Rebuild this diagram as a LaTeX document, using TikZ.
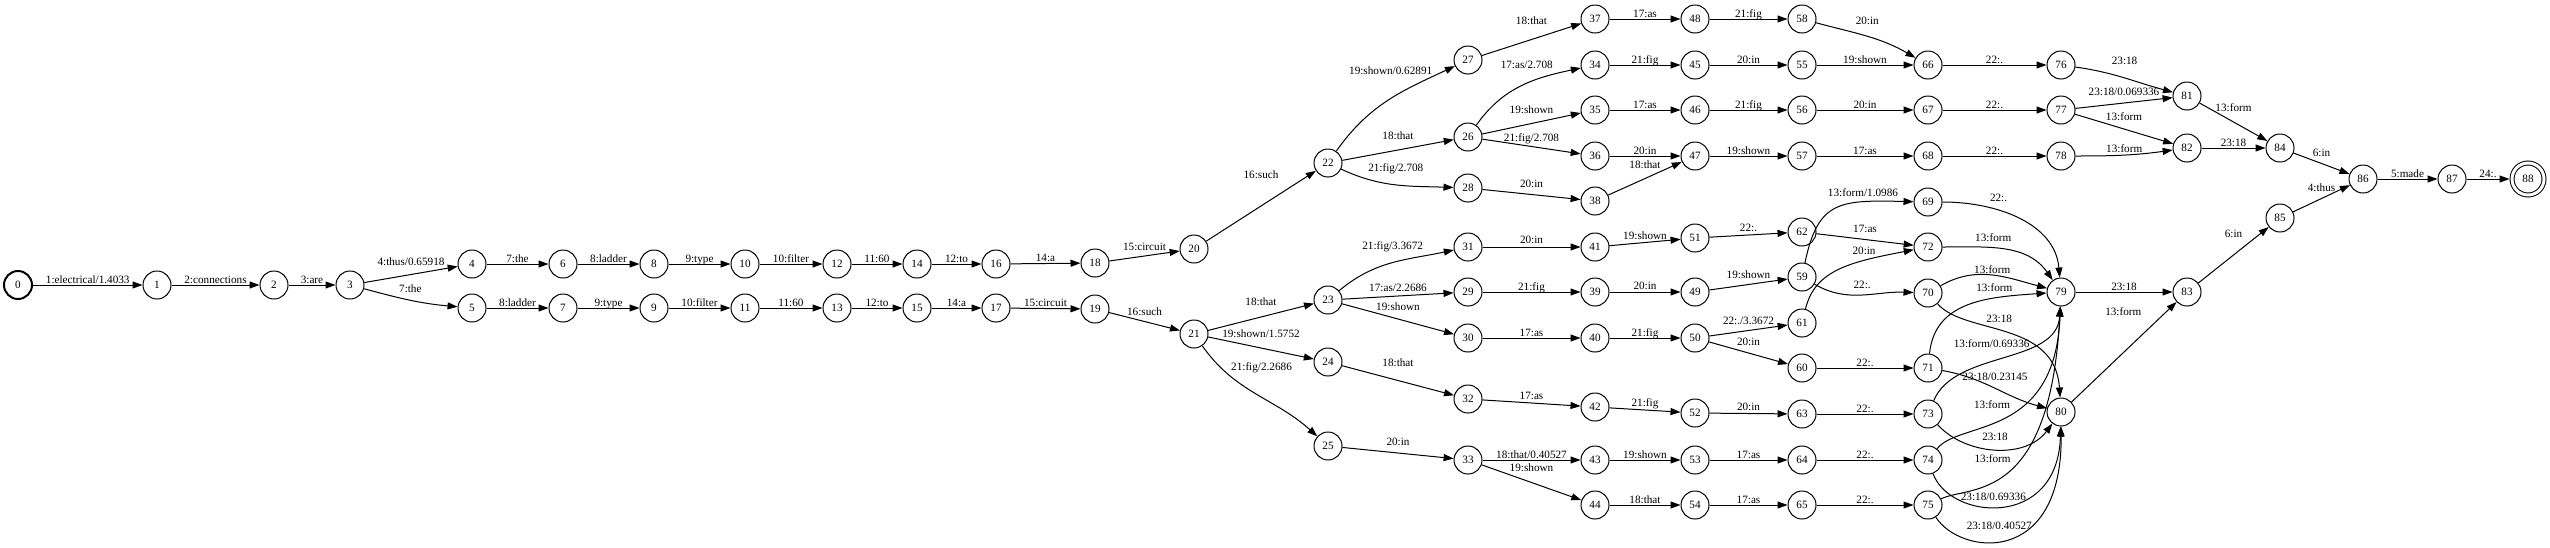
\documentclass[tikz,border=0pt]{standalone}
\usepackage{fontspec}
\setmainfont{Liberation Serif}
\usetikzlibrary{arrows.meta, positioning}
\newcommand{\lblsize}{\fontsize{11.2pt}{13pt}\selectfont}

\begin{document}
\begin{tikzpicture}[x=1pt, y=-1pt,
        state/.style={draw, circle, line width=1pt, minimum size=28pt, inner sep=0pt, font=\lblsize},
        startstate/.style={state, line width=2pt},
        endstate/.style={state, double, double distance=3pt, minimum size=32pt, outer sep=2.5pt},
        trans/.style={-{Triangle[length=10pt, width=7pt]}, line width=1pt},
        lbl/.style={font=\lblsize, inner sep=0pt, text height=7.7pt, text depth=1.5pt, above}
    ]
        \useasboundingbox (0,0) rectangle (2550,547);

        % --- Start of the lattice ---
        \node[startstate] (s0) at (18,285) {0};
        \node[state] (s1) at (157,285) {1};
        \node[state] (s2) at (274,285) {2};
        \node[state] (s3) at (350,285) {3};

        % --- Two parallel rows ---
        \node[state] (s4) at (472,264) {4};
        \node[state] (s5) at (472,308) {5};
        \node[state] (s6) at (563,264) {6};
        \node[state] (s7) at (563,308) {7};
        \node[state] (s8) at (654,264) {8};
        \node[state] (s9) at (654,308) {9};
        \node[state] (s10) at (745,264) {10};
        \node[state] (s11) at (745,308) {11};
        \node[state] (s12) at (837,264) {12};
        \node[state] (s13) at (837,308) {13};
        \node[state] (s14) at (917,264) {14};
        \node[state] (s15) at (917,308) {15};
        \node[state] (s16) at (996,264) {16};
        \node[state] (s17) at (996,308) {17};
        \node[state] (s18) at (1095,263) {18};
        \node[state] (s19) at (1095,309) {19};
        \node[state] (s20) at (1194,249) {20};
        \node[state] (s21) at (1194,334) {21};

        % --- Branching part ---
        \node[state] (s22) at (1328,163) {22};
        \node[state] (s23) at (1328,300) {23};
        \node[state] (s24) at (1328,362) {24};
        \node[state] (s25) at (1328,446) {25};

        \node[state] (s27) at (1468,60) {27};
        \node[state] (s26) at (1468,137) {26};
        \node[state] (s28) at (1468,188) {28};
        \node[state] (s31) at (1468,247) {31};
        \node[state] (s29) at (1468,292) {29};
        \node[state] (s30) at (1468,338) {30};
        \node[state] (s32) at (1468,399) {32};
        \node[state] (s33) at (1468,460) {33};

        \node[state] (s37) at (1595,19) {37};
        \node[state] (s34) at (1595,65) {34};
        \node[state] (s35) at (1595,110) {35};
        \node[state] (s36) at (1595,156) {36};
        \node[state] (s38) at (1595,201) {38};
        \node[state] (s41) at (1595,247) {41};
        \node[state] (s39) at (1595,292) {39};
        \node[state] (s40) at (1595,338) {40};
        \node[state] (s42) at (1595,407) {42};
        \node[state] (s43) at (1595,460) {43};
        \node[state] (s44) at (1595,505) {44};

        \node[state] (s48) at (1695,19) {48};
        \node[state] (s45) at (1695,65) {45};
        \node[state] (s46) at (1695,110) {46};
        \node[state] (s47) at (1695,156) {47};
        \node[state] (s51) at (1695,238) {51};
        \node[state] (s49) at (1695,292) {49};
        \node[state] (s50) at (1695,338) {50};
        \node[state] (s52) at (1695,413) {52};
        \node[state] (s53) at (1695,460) {53};
        \node[state] (s54) at (1695,505) {54};

        \node[state] (s58) at (1802,19) {58};
        \node[state] (s55) at (1802,65) {55};
        \node[state] (s56) at (1802,110) {56};
        \node[state] (s57) at (1802,156) {57};
        \node[state] (s62) at (1802,232) {62};
        \node[state] (s59) at (1802,277) {59};
        \node[state] (s61) at (1802,323) {61};
        \node[state] (s60) at (1802,368) {60};
        \node[state] (s63) at (1802,414) {63};
        \node[state] (s64) at (1802,460) {64};
        \node[state] (s65) at (1802,505) {65};

        \node[state] (s66) at (1928,65) {66};
        \node[state] (s67) at (1928,110) {67};
        \node[state] (s68) at (1928,156) {68};
        \node[state] (s69) at (1928,202) {69};
        \node[state] (s72) at (1928,247) {72};
        \node[state] (s70) at (1928,293) {70};
        \node[state] (s71) at (1928,368) {71};
        \node[state] (s73) at (1928,414) {73};
        \node[state] (s74) at (1928,460) {74};
        \node[state] (s75) at (1928,505) {75};

        % --- Merging part ---
        \node[state] (s76) at (2061,65) {76};
        \node[state] (s77) at (2061,110) {77};
        \node[state] (s78) at (2061,156) {78};
        \node[state] (s79) at (2061,292) {79};
        \node[state] (s80) at (2061,412) {80};
        \node[state] (s81) at (2187,96) {81};
        \node[state] (s82) at (2187,148) {82};
        \node[state] (s83) at (2187,292) {83};
        \node[state] (s84) at (2280,148) {84};
        \node[state] (s85) at (2280,218) {85};
        \node[state] (s86) at (2363,179) {86};
        \node[state] (s87) at (2452,179) {87};
        \node[endstate] (s88) at (2528,179) {88};

        % --- Arcs: start ---
        \draw[trans] (s0) -- (s1) node[lbl, midway] {1:electrical/1.4033};
        \draw[trans] (s1) -- (s2) node[lbl, midway] {2:connections};
        \draw[trans] (s2) -- (s3) node[lbl, midway] {3:are};
        \draw[trans] (s3) -- (s4) node[lbl, midway, above=7pt] {4:thus/0.65918};
        \draw[trans] (s3) to[out=-15, in=175] node[lbl, above=6pt] {7:the} (s5);

        % upper row
        \draw[trans] (s4) -- (s6) node[lbl, midway] {7:the};
        \draw[trans] (s6) -- (s8) node[lbl, midway] {8:ladder};
        \draw[trans] (s8) -- (s10) node[lbl, midway] {9:type};
        \draw[trans] (s10) -- (s12) node[lbl, midway] {10:filter};
        \draw[trans] (s12) -- (s14) node[lbl, midway] {11:60};
        \draw[trans] (s14) -- (s16) node[lbl, midway] {12:to};
        \draw[trans] (s16) -- (s18) node[lbl, midway] {14:a};
        \draw[trans] (s18) -- (s20) node[lbl, midway, above=4pt] {15:circuit};

        % lower row
        \draw[trans] (s5) -- (s7) node[lbl, midway] {8:ladder};
        \draw[trans] (s7) -- (s9) node[lbl, midway] {9:type};
        \draw[trans] (s9) -- (s11) node[lbl, midway] {10:filter};
        \draw[trans] (s11) -- (s13) node[lbl, midway] {11:60};
        \draw[trans] (s13) -- (s15) node[lbl, midway] {12:to};
        \draw[trans] (s15) -- (s17) node[lbl, midway] {14:a};
        \draw[trans] (s17) -- (s19) node[lbl, midway] {15:circuit};
        \draw[trans] (s19) -- (s21) node[lbl, midway, above=4pt] {16:such};

        % --- Arcs: branching ---
        \draw[trans] (s20) -- (s22) node[lbl, midway, above=26pt] {16:such};
        \draw[trans] (s21) -- (s23) node[lbl, midway, above=10pt] {18:that};
        \draw[trans] (s21) -- (s24) node[lbl, midway, above=9pt] {19:shown/1.5752};
        \draw[trans] (s21) to[out=-55, in=138] node[lbl, pos=0.18, right=10pt] {21:fig/2.2686} (s25);

        \draw[trans] (s22) to[out=55, in=205] node[lbl, pos=0.85, above left] {19:shown/0.62891} (s27);
        \draw[trans] (s22) -- (s26) node[lbl, midway, above=9pt] {18:that};
        \draw[trans] (s22) to[out=-25, in=178] node[lbl, above=11pt] {21:fig/2.708} (s28);
        \draw[trans] (s23) to[out=40, in=192] node[lbl, above=11pt] {21:fig/3.3672} (s31);
        \draw[trans] (s23) -- (s29) node[lbl, midway, above=3pt] {17:as/2.2686};
        \draw[trans] (s23) -- (s30) node[lbl, midway, above=7pt] {19:shown};
        \draw[trans] (s24) -- (s32) node[lbl, midway, above=12pt] {18:that};
        \draw[trans] (s25) -- (s33) node[lbl, midway, above=6pt] {20:in};

        \draw[trans] (s27) -- (s37) node[lbl, midway, above=13pt] {18:that};
        \draw[trans] (s26) to[out=55, in=192] node[lbl, pos=0.55, above=13pt] {17:as/2.708} (s34);
        \draw[trans] (s26) -- (s35) node[lbl, midway, above=8pt] {19:shown};
        \draw[trans] (s26) -- (s36) node[lbl, midway, above=3pt] {21:fig/2.708};
        \draw[trans] (s28) -- (s38) node[lbl, midway, above=5pt] {20:in};
        \draw[trans] (s31) -- (s41) node[lbl, midway, above=2pt] {20:in};
        \draw[trans] (s29) -- (s39) node[lbl, midway] {21:fig};
        \draw[trans] (s30) -- (s40) node[lbl, midway] {17:as};
        \draw[trans] (s32) -- (s42) node[lbl, midway, above=2pt] {17:as};
        \draw[trans] (s33) -- (s43) node[lbl, midway] {18:that/0.40527};
        \draw[trans] (s33) -- (s44) node[lbl, midway, above=9pt] {19:shown};

        \draw[trans] (s37) -- (s48) node[lbl, midway] {17:as};
        \draw[trans] (s34) -- (s45) node[lbl, midway] {21:fig};
        \draw[trans] (s35) -- (s46) node[lbl, midway] {17:as};
        \draw[trans] (s36) -- (s47) node[lbl, midway] {20:in};
        \draw[trans] (s38) -- (s47) node[lbl, midway, above=8pt] {18:that};
        \draw[trans] (s41) -- (s51) node[lbl, midway, above=1pt] {19:shown};
        \draw[trans] (s39) -- (s49) node[lbl, midway, above=1pt] {20:in};
        \draw[trans] (s40) -- (s50) node[lbl, midway] {21:fig};
        \draw[trans] (s42) -- (s52) node[lbl, midway, above=2pt] {21:fig};
        \draw[trans] (s43) -- (s53) node[lbl, midway] {19:shown};
        \draw[trans] (s44) -- (s54) node[lbl, midway] {18:that};

        \draw[trans] (s48) -- (s58) node[lbl, midway] {21:fig};
        \draw[trans] (s45) -- (s55) node[lbl, midway] {20:in};
        \draw[trans] (s46) -- (s56) node[lbl, midway] {21:fig};
        \draw[trans] (s47) -- (s57) node[lbl, midway] {19:shown};
        \draw[trans] (s51) -- (s62) node[lbl, midway, above=2pt] {22:.};
        \draw[trans] (s49) -- (s59) node[lbl, midway, above=4pt] {19:shown};
        \draw[trans] (s50) -- (s61) node[lbl, midway, above=4pt] {22:./3.3672};
        \draw[trans] (s50) -- (s60) node[lbl, midway, above=6pt] {20:in};
        \draw[trans] (s52) -- (s63) node[lbl, midway, above=1pt] {20:in};
        \draw[trans] (s53) -- (s64) node[lbl, midway] {17:as};
        \draw[trans] (s54) -- (s65) node[lbl, midway] {17:as};

        \draw[trans] (s58) to[out=-15, in=150] node[lbl, above=10pt] {20:in} (s66);
        \draw[trans] (s55) -- (s66) node[lbl, midway] {19:shown};
        \draw[trans] (s56) -- (s67) node[lbl, midway] {20:in};
        \draw[trans] (s57) -- (s68) node[lbl, midway] {17:as};
        \draw[trans] (s59) .. controls (1818,200) and (1840,200) .. (s69) node[lbl, pos=0.72, above=4pt] {13:form/1.0986};
        \draw[trans] (s62) -- (s72) node[lbl, midway, above=5pt] {17:as};
        \draw[trans] (s61) .. controls (1815,270) and (1850,262) .. (s72) node[lbl, pos=0.7, above=4pt] {20:in};
        \draw[trans] (s59) to[out=-30, in=178] node[lbl, above=5pt] {22:.} (s70);
        \draw[trans] (s60) -- (s71) node[lbl, midway] {22:.};
        \draw[trans] (s63) -- (s73) node[lbl, midway] {22:.};
        \draw[trans] (s64) -- (s74) node[lbl, midway] {22:.};
        \draw[trans] (s65) -- (s75) node[lbl, midway] {22:.};

        % --- Arcs: merging ---
        \draw[trans] (s66) -- (s76) node[lbl, midway] {22:.};
        \draw[trans] (s67) -- (s77) node[lbl, midway] {22:.};
        \draw[trans] (s68) -- (s78) node[lbl, midway] {22:.};
        \draw[trans] (s69) to[out=0, in=95] node[lbl, pos=0.35, above=7pt] {22:.} (s79);
        \draw[trans] (s72) to[out=0, in=125] node[lbl, pos=0.4, above=5pt] {13:form} (s79);
        \draw[trans] (s70) to[out=30, in=165] node[lbl] {13:form} (s79);
        \draw[trans] (s71) .. controls (1935,300) and (1990,297) .. (s79) node[lbl, pos=0.68, above=5pt] {13:form};
        \draw[trans] (s73) .. controls (1955,350) and (2057,365) .. (s79) node[lbl, pos=0.43, above=11pt] {13:form/0.69336};
        \draw[trans] (s74) .. controls (1960,420) and (2055,440) .. (s79) node[lbl, pos=0.42, above=13pt] {13:form};
        \draw[trans] (s75) .. controls (1970,485) and (2050,505) .. (s79) node[lbl, pos=0.4, above=18pt] {13:form};
        \draw[trans] (s70) .. controls (1965,335) and (2055,320) .. (s80) node[lbl, pos=0.45, above=6pt] {23:18};
        \draw[trans] (s71) to[out=-10, in=165] node[lbl, above=6pt] {23:18/0.23145} (s80);
        \draw[trans] (s73) .. controls (1965,455) and (2025,460) .. (s80) node[lbl, pos=0.5, above=7pt] {23:18};
        \draw[trans] (s74) .. controls (1950,520) and (2058,530) .. (s80) node[lbl, pos=0.45, above=5pt] {23:18/0.69336};
        \draw[trans] (s75) .. controls (1960,555) and (2062,568) .. (s80) node[lbl, pos=0.45, above=10pt] {23:18/0.40527};

        \draw[trans] (s76) to[out=-8, in=165] node[lbl, above=11pt] {23:18} (s81);
        \draw[trans] (s77) -- (s81) node[lbl, midway, above=6pt] {23:18/0.069336};
        \draw[trans] (s77) -- (s82) node[lbl, midway, above=7pt] {13:form};
        \draw[trans] (s78) to[out=0, in=188] node[lbl] {13:form} (s82);
        \draw[trans] (s79) -- (s83) node[lbl, midway] {23:18};
        \draw[trans] (s80) -- (s83) node[lbl, pos=0.67, anchor=south east, yshift=18pt] {13:form};

        \draw[trans] (s81) -- (s84) node[lbl, midway, above=9pt] {13:form};
        \draw[trans] (s82) -- (s84) node[lbl, midway] {23:18};
        \draw[trans] (s83) -- (s85) node[lbl, midway, above=16pt] {6:in};
        \draw[trans] (s84) -- (s86) node[lbl, midway, above=5pt] {6:in};
        \draw[trans] (s85) -- (s86) node[lbl, midway, above=5pt] {4:thus};
        \draw[trans] (s86) -- (s87) node[lbl, midway] {5:made};
        \draw[trans] (s87) -- (s88) node[lbl, midway] {24:.};

    \end{tikzpicture}
\end{document}
